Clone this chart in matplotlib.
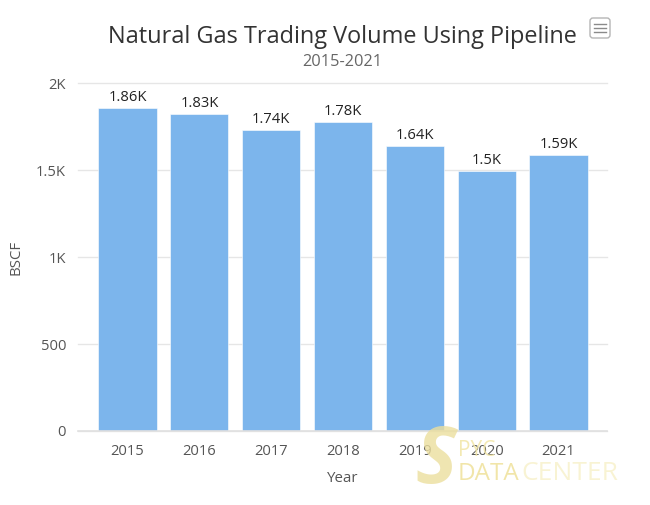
import matplotlib
matplotlib.use("Agg")
import matplotlib.pyplot as plt
from matplotlib.patches import FancyBboxPatch

years = ["2015", "2016", "2017", "2018", "2019", "2020", "2021"]
values = [1860, 1825, 1735, 1778, 1640, 1497, 1590]
labels = ["1.86K", "1.83K", "1.74K", "1.78K", "1.64K", "1.5K", "1.59K"]
ytick_vals = [0, 500, 1000, 1500, 2000]
ytick_labs = ["0", "500", "1K", "1.5K", "2K"]

W, H = 650, 505
plt.rcParams['font.family'] = ['Open Sans', 'DejaVu Sans']
fig = plt.figure(figsize=(W / 100, H / 100), dpi=100)
L, R, T, B = 78, 607, 83.5, 431
ax = fig.add_axes([L / W, 1 - B / H, (R - L) / W, (B - T) / H])
ax.set_xlim(-0.69, 6.675)
ax.set_ylim(0, 2000)
ax.bar(range(len(years)), values, width=0.81, color="#7cb5ec", edgecolor="white", linewidth=0.4, zorder=2)
for i, (v, s) in enumerate(zip(values, labels)):
    ax.annotate(s, (i, v), xytext=(0, 2), textcoords="offset points", ha="center", va="bottom",
                fontsize=10.6, color="#222222", zorder=3)
for sp in ["top", "right", "left"]:
    ax.spines[sp].set_visible(False)
ax.spines["bottom"].set_color("#e0e0e0")
ax.spines["bottom"].set_linewidth(1.2)
ax.set_yticks(ytick_vals, ytick_labs)
ax.set_xticks(range(len(years)), years)
ax.tick_params(axis="both", length=0, labelsize=10.6, labelcolor="#555555")
ax.tick_params(axis="x", pad=9.5)
ax.tick_params(axis="y", pad=8.6)
ax.grid(axis="y", color="#e6e6e6", linewidth=1, zorder=0, clip_on=False)
ax.set_axisbelow(True)

fig.text(342.5 / W, 1 - 37 / H, "Natural Gas Trading Volume Using Pipeline", ha="center", va="center",
         fontsize=16.9, color="#333333")
fig.text(342 / W, 1 - 62 / H, "2015-2021", ha="center", va="center", fontsize=11.8, color="#666666")
fig.text(343 / W, 1 - 478 / H, "Year", ha="center", va="center", fontsize=10.8, color="#555555")
fig.text(16 / W, 1 - 257 / H, "BSCF", ha="center", va="center", rotation=90, fontsize=10.8, color="#555555")

# context-menu button
overlay = fig.add_axes([0, 0, 1, 1], facecolor="none")
overlay.set_xlim(0, W)
overlay.set_ylim(H, 0)
overlay.axis("off")
overlay.add_patch(FancyBboxPatch((590, 18), 20, 20, boxstyle="round,pad=0,rounding_size=3",
                                 fc="white", ec="#b5b5b5", lw=1))
for y in (24, 28, 32):
    overlay.plot([594, 606], [y, y], color="#8a8a8a", lw=1)

# watermark
overlay.text(458, 451, "PYC", fontsize=15, color="#f2e6a6", ha="left", va="center", alpha=0.85)
overlay.text(458, 474, "DATA", fontsize=17.5, color="#f0e3a0", ha="left", va="center", alpha=0.9)
overlay.text(521, 474, "CENTER", fontsize=19, color="#f8f2cf", ha="left", va="center", alpha=0.9)
overlay.text(436, 462, "S", fontsize=56, fontweight="bold", style="italic", color="#ecdf9e",
             ha="center", va="center", alpha=0.8)

fig.savefig("out.png", dpi=100)
